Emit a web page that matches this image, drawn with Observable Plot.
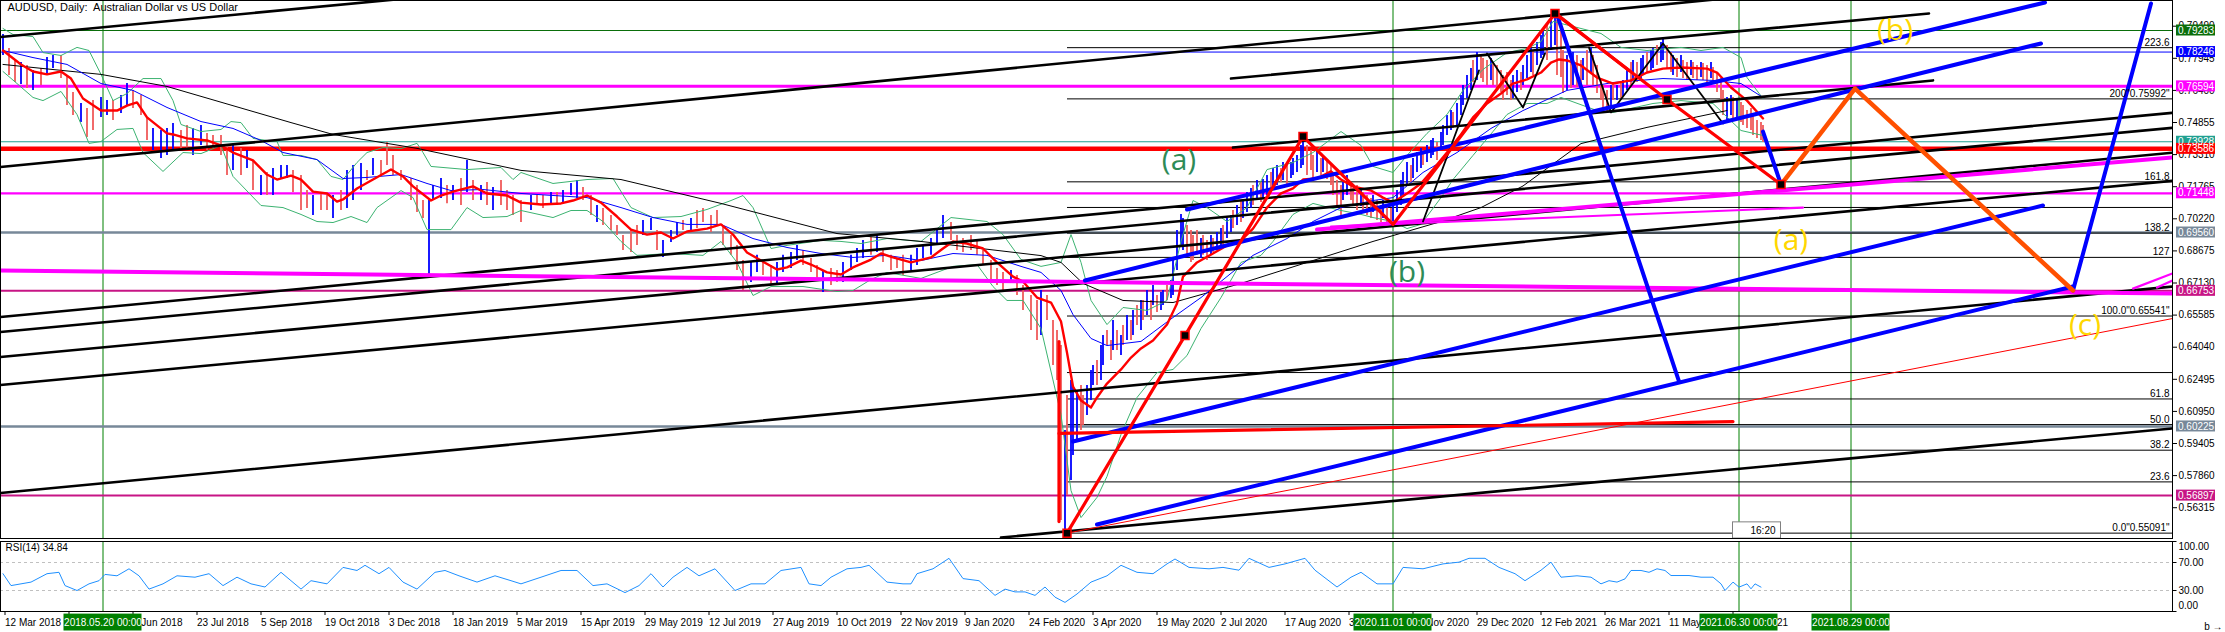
<!DOCTYPE html>
<html><head><meta charset="utf-8">
<script src="https://cdn.jsdelivr.net/npm/d3@7"></script>
<script src="https://cdn.jsdelivr.net/npm/@observablehq/plot@0.6"></script>
<style>
html,body{margin:0;padding:0;background:#fff;}
#wrap{position:relative;width:2225px;height:632px;overflow:hidden;background:#fff;}
#wrap svg{position:absolute;left:0;display:block;}
</style></head><body><div id="wrap"></div>
<script>
// ---------------- DATA ----------------
const chartTitle = "AUDUSD, Daily:  Australian Dollar vs US Dollar";
const rsiTitle = "RSI(14) 34.84";
const priceTicks = [0.79490,0.77945,0.76400,0.74855,0.73310,0.71765,0.70220,0.68675,0.67130,0.65585,0.64040,0.62495,0.60950,0.59405,0.57860,0.56315];
const rsiTicks = [100,70,30,0];
const dateTickBars = [0,32,64,96,128,160,192,224,256,288,320,352,384,416,448,480,512,544,576,608,640,672,704,736,768,800,832,864];
const dateTickLabels = ["12 Mar 2018","24 Apr 2018","7 Jun 2018","23 Jul 2018","5 Sep 2018","19 Oct 2018","3 Dec 2018","18 Jan 2019","5 Mar 2019","15 Apr 2019","29 May 2019","12 Jul 2019","27 Aug 2019","10 Oct 2019","22 Nov 2019","9 Jan 2020","24 Feb 2020","3 Apr 2020","19 May 2020","2 Jul 2020","17 Aug 2020","30 Sep 2020","11 Nov 2020","29 Dec 2020","12 Feb 2021","26 Mar 2021","11 May 2021","23 Jun 2021"];
const greenLineBars = [50,695,868,924];
const greenLineLabels = ["2018.05.20 00:00","2020.11.01 00:00","2021.06.30 00:00","2021.08.29 00:00"];

// [bar, high, low, up]
const bars = [
[0,.7909,.7808,1],[3,.7842,.7712,0],[6,.7784,.7678,0],[9,.7774,.7669,1],[12,.7760,.7649,0],[15,.7736,.7640,1],[19,.7745,.7664,0],[22,.7798,.7712,1],[25,.7808,.7745,1],[29,.7808,.7697,0],
[32,.7712,.7567,0],[35,.7630,.7519,0],[39,.7577,.7485,1],[42,.7553,.7413,0],[45,.7591,.7447,0],[49,.7606,.7510,1],[52,.7591,.7519,1],[55,.7591,.7495,0],[59,.7615,.7529,1],[62,.7673,.7567,1],
[65,.7640,.7553,0],[69,.7615,.7519,0],[72,.7505,.7399,0],[75,.7457,.7351,1],[79,.7447,.7312,1],[82,.7457,.7327,1],[85,.7481,.7351,1],[89,.7447,.7351,0],[92,.7471,.7360,0],[95,.7457,.7327,1],
[99,.7471,.7375,1],[102,.7433,.7351,0],[105,.7423,.7360,0],[109,.7423,.7327,0],[112,.7365,.7230,0],[115,.7375,.7254,1],[119,.7360,.7230,0],[122,.7351,.7264,1],[125,.7303,.7158,0],[129,.7230,.7134,1],
[132,.7245,.7134,0],[135,.7264,.7134,1],[139,.7279,.7216,1],[142,.7279,.7216,1],[145,.7254,.7149,0],[149,.7230,.7062,0],[152,.7158,.7072,0],[155,.7134,.7038,1],[159,.7149,.7062,0],[162,.7134,.7062,0],
[165,.7134,.7023,1],[169,.7158,.7062,0],[172,.7254,.7072,1],[175,.7279,.7110,1],[179,.7288,.7158,1],[182,.7254,.7206,0],[185,.7312,.7230,1],[189,.7303,.7230,0],[192,.7389,.7279,0],[195,.7327,.7230,0],
[199,.7254,.7206,0],[204,.7216,.7110,0],[207,.7182,.7052,0],[210,.7110,.7023,0],[213,.7110,.6744,1],[215,.7182,.7110,1],[219,.7216,.7120,1],[222,.7182,.7095,0],[225,.7182,.7110,1],[229,.7216,.7086,0],
[232,.7303,.7149,1],[235,.7206,.7110,0],[239,.7182,.7110,1],[242,.7197,.7086,0],[245,.7173,.7062,1],[249,.7206,.7086,0],[252,.7158,.7062,0],[255,.7134,.7038,0],[259,.7110,.7004,0],[264,.7134,.7062,1],
[267,.7134,.7086,0],[270,.7134,.7072,0],[274,.7149,.7086,1],[277,.7149,.7086,0],[280,.7158,.7100,1],[284,.7192,.7134,1],[287,.7206,.7120,1],[290,.7173,.7110,0],[294,.7134,.7038,0],[297,.7086,.7004,1],
[300,.7072,.6990,0],[304,.7038,.6966,0],[307,.6990,.6942,0],[310,.6942,.6869,0],[314,.6966,.6860,0],[317,.6990,.6894,0],[320,.7014,.6942,1],[324,.7023,.6966,1],[327,.6966,.6869,0],[330,.6918,.6836,1],
[334,.6966,.6908,1],[337,.7004,.6942,1],[340,.7014,.6966,0],[344,.7023,.6956,1],[347,.7062,.6975,0],[350,.7072,.7004,0],[354,.7038,.6956,0],[357,.7062,.6990,0],[360,.6990,.6894,0],[364,.6942,.6846,0],
[367,.6894,.6773,0],[370,.6821,.6677,0],[374,.6812,.6715,1],[377,.6846,.6764,1],[380,.6821,.6749,0],[384,.6797,.6701,0],[387,.6812,.6701,1],[390,.6846,.6764,1],[394,.6860,.6783,1],[397,.6894,.6821,1],
[400,.6869,.6797,0],[404,.6831,.6764,0],[407,.6797,.6735,0],[410,.6773,.6667,1],[414,.6783,.6701,0],[417,.6773,.6715,0],[420,.6812,.6715,1],[424,.6846,.6773,1],[427,.6879,.6812,1],[430,.6918,.6831,1],
[434,.6932,.6846,0],[437,.6942,.6860,1],[440,.6879,.6812,0],[444,.6846,.6773,0],[447,.6831,.6783,0],[450,.6846,.6749,0],[454,.6846,.6773,1],[457,.6879,.6797,1],[460,.6894,.6831,1],[464,.6927,.6846,1],
[467,.6975,.6894,1],[470,.7038,.6927,1],[474,.7004,.6918,0],[477,.6942,.6869,0],[480,.6927,.6860,0],[484,.6942,.6869,0],[487,.6918,.6846,0],[490,.6869,.6797,0],[494,.6821,.6715,0],[497,.6783,.6701,0],
[500,.6764,.6677,0],[504,.6773,.6715,1],[507,.6749,.6653,0],[510,.6701,.6581,0],[514,.6653,.6484,0],[517,.6629,.6436,0],[519,.6677,.6460,1],[522,.6653,.6532,0],[525,.6532,.6316,0],[527,.6484,.6244,0],
[529,.6412,.5570,0],[531,.6003,.5509,1],[532,.6172,.5690,0],[534,.6244,.5762,1],[535,.6220,.5883,1],[537,.6196,.5955,1],[539,.6220,.6003,0],[540,.6172,.6027,0],[542,.6220,.6075,1],[544,.6292,.6147,1],
[545,.6316,.6220,1],[547,.6340,.6220,0],[549,.6412,.6244,1],[550,.6460,.6316,1],[552,.6484,.6412,0],[554,.6436,.6340,0],[555,.6532,.6388,1],[557,.6484,.6388,0],[559,.6460,.6364,1],[560,.6508,.6412,0],
[562,.6556,.6436,1],[564,.6532,.6436,0],[565,.6581,.6460,1],[567,.6605,.6508,0],[569,.6629,.6484,1],[570,.6629,.6532,0],[572,.6677,.6556,1],[574,.6629,.6532,0],[575,.6701,.6605,1],[577,.6653,.6571,0],
[579,.6667,.6581,1],[580,.6677,.6605,1],[582,.6701,.6629,0],[584,.6725,.6639,1],[585,.6821,.6653,1],[587,.6966,.6773,1],[589,.7043,.6894,1],[590,.7023,.6869,1],[592,.6990,.6846,0],[594,.6966,.6812,0],
[595,.6942,.6821,0],[597,.6966,.6846,0],[599,.6927,.6831,1],[600,.6942,.6846,0],[602,.6918,.6821,0],[604,.6942,.6846,1],[605,.6927,.6860,0],[607,.6956,.6869,1],[609,.6975,.6879,1],[610,.6990,.6894,0],
[612,.7023,.6927,1],[614,.7038,.6956,1],[615,.7062,.6975,0],[617,.7086,.6990,1],[619,.7110,.7004,0],[620,.7110,.7023,1],[622,.7149,.7052,1],[624,.7168,.7072,1],[625,.7182,.7086,0],[627,.7206,.7110,1],
[629,.7197,.7100,0],[630,.7211,.7120,1],[632,.7230,.7134,1],[634,.7245,.7158,0],[635,.7264,.7177,1],[637,.7279,.7182,1],[639,.7264,.7197,0],[640,.7293,.7206,1],[642,.7279,.7182,0],[644,.7293,.7216,1],
[645,.7312,.7230,1],[647,.7327,.7245,1],[649,.7375,.7264,1],[650,.7418,.7279,1],[652,.7375,.7230,0],[654,.7351,.7254,0],[655,.7327,.7216,0],[657,.7351,.7245,1],[659,.7312,.7230,0],[660,.7327,.7245,1],
[662,.7303,.7211,0],[664,.7279,.7182,0],[665,.7230,.7134,0],[667,.7206,.7086,0],[669,.7182,.7023,0],[670,.7197,.7110,1],[672,.7230,.7134,1],[674,.7197,.7110,0],[675,.7168,.7086,0],[677,.7182,.7062,0],
[679,.7168,.7081,1],[680,.7149,.7052,0],[682,.7134,.7038,0],[684,.7120,.7023,0],[685,.7134,.7052,1],[687,.7110,.7014,0],[689,.7086,.7004,0],[690,.7110,.7023,1],[692,.7086,.6995,0],[694,.7072,.6995,0],
[695,.7110,.7004,1],[697,.7158,.7052,1],[699,.7206,.7086,1],[700,.7245,.7134,1],[702,.7293,.7182,1],[704,.7279,.7197,0],[705,.7312,.7216,1],[707,.7341,.7245,1],[709,.7360,.7264,1],[710,.7351,.7279,0],
[712,.7375,.7293,1],[714,.7399,.7312,1],[715,.7409,.7327,1],[717,.7389,.7303,0],[719,.7437,.7351,1],[720,.7471,.7375,1],[722,.7519,.7423,1],[724,.7543,.7447,1],[725,.7534,.7457,0],[727,.7577,.7471,1],
[729,.7615,.7519,1],[730,.7664,.7567,1],[732,.7712,.7601,1],[734,.7745,.7640,1],[735,.7784,.7678,0],[737,.7822,.7688,1],[739,.7808,.7697,0],[740,.7793,.7678,0],[742,.7784,.7664,0],[744,.7793,.7688,1],
[745,.7774,.7664,0],[747,.7760,.7649,0],[749,.7736,.7630,0],[750,.7712,.7591,0],[752,.7726,.7615,0],[754,.7688,.7591,0],[755,.7712,.7601,1],[757,.7736,.7630,1],[759,.7726,.7640,0],[760,.7760,.7664,1],
[762,.7808,.7697,1],[764,.7842,.7726,1],[765,.7832,.7712,0],[767,.7871,.7760,1],[769,.7904,.7793,1],[770,.7938,.7808,1],[772,.7952,.7784,0],[774,.7976,.7832,1],[776,.8007,.7856,1],[777,.7976,.7712,0],
[779,.7928,.7702,0],[780,.7832,.7625,0],[782,.7808,.7640,1],[784,.7784,.7649,0],[785,.7822,.7664,1],[787,.7808,.7654,0],[789,.7784,.7664,0],[790,.7793,.7688,1],[792,.7832,.7664,0],[794,.7847,.7726,1],
[795,.7808,.7664,0],[797,.7760,.7625,0],[799,.7688,.7591,0],[800,.7664,.7543,0],[802,.7640,.7529,0],[804,.7664,.7553,1],[805,.7673,.7591,0],[807,.7664,.7591,1],[809,.7673,.7601,0],[810,.7688,.7611,1],
[812,.7736,.7640,1],[814,.7774,.7664,0],[815,.7784,.7688,1],[817,.7774,.7678,0],[819,.7793,.7697,1],[820,.7808,.7712,1],[822,.7822,.7726,0],[824,.7832,.7736,1],[825,.7842,.7745,1],[827,.7856,.7760,0],
[829,.7871,.7774,1],[830,.7890,.7784,1],[832,.7856,.7745,0],[834,.7822,.7726,0],[835,.7808,.7712,1],[837,.7793,.7702,0],[839,.7808,.7726,1],[840,.7784,.7697,0],[842,.7774,.7688,0],[844,.7784,.7712,1],
[845,.7774,.7697,0],[847,.7760,.7688,0],[849,.7774,.7702,1],[850,.7770,.7688,0],[852,.7760,.7678,0],[854,.7774,.7697,1],[855,.7750,.7673,0],[857,.7726,.7630,0],[859,.7697,.7591,0],[860,.7640,.7519,0],
[862,.7606,.7481,1],[864,.7615,.7519,1],[865,.7606,.7505,0],[867,.7591,.7495,1],[869,.7582,.7485,0],[870,.7567,.7471,0],[872,.7543,.7457,0],[874,.7553,.7447,0],[875,.7519,.7423,0],[877,.7495,.7409,0],
[879,.7485,.7399,0],[880,.7471,.7389,0]
];

// indicator lines [bar, price]
const redMA = [[0,.7832],[9,.7765],[15,.7731],[22,.7717],[29,.7731],[34,.7697],[40,.7601],[49,.7543],[57,.7543],[62,.7567],[67,.7582],[72,.7510],[82,.7433],[85,.7428],[92,.7409],[102,.7399],[109,.7375],[115,.7341],[125,.7303],[132,.7235],[137,.7211],[144,.7230],[149,.7211],[155,.7153],[162,.7144],[167,.7105],[170,.7115],[177,.7168],[185,.7211],[194,.7259],[200,.7226],[205,.7178],[214,.7110],[219,.7134],[225,.7153],[235,.7178],[242,.7144],[252,.7134],[259,.7100],[269,.7091],[279,.7096],[285,.7110],[292,.7134],[299,.7100],[307,.7033],[314,.6970],[322,.6946],[329,.6956],[335,.6927],[342,.6961],[352,.6975],[359,.6995],[365,.6946],[372,.6860],[379,.6821],[387,.6778],[392,.6788],[399,.6821],[404,.6802],[412,.6764],[419,.6754],[425,.6788],[434,.6826],[439,.6855],[445,.6836],[454,.6812],[464,.6836],[470,.6879],[475,.6913],[482,.6903],[490,.6879],[497,.6812],[505,.6744],[510,.6720],[517,.6643],[524,.6619],[529,.6528],[532,.6378],[535,.6215],[539,.6147],[544,.6114],[547,.6162],[552,.6229],[559,.6297],[564,.6354],[569,.6398],[575,.6436],[582,.6513],[587,.6614],[590,.6744],[597,.6812],[605,.6855],[612,.6894],[619,.6918],[625,.6975],[632,.7076],[639,.7144],[645,.7168],[650,.7211],[657,.7216],[664,.7250],[669,.7211],[675,.7178],[684,.7158],[690,.7124],[695,.7100],[702,.7144],[709,.7192],[715,.7259],[722,.7341],[729,.7428],[735,.7510],[742,.7577],[749,.7625],[755,.7673],[762,.7693],[769,.7726],[774,.7774],[778,.7789],[782,.7784],[789,.7760],[797,.7702],[805,.7673],[814,.7688],[822,.7726],[830,.7745],[839,.7750],[852,.7745],[857,.7726],[864,.7654],[872,.7591],[880,.7505]];
const blueMA = [[0,.7832],[15,.7798],[32,.7765],[49,.7673],[65,.7640],[82,.7558],[99,.7490],[115,.7457],[129,.7399],[140,.7341],[157,.7307],[170,.7216],[182,.7221],[199,.7235],[212,.7192],[224,.7158],[240,.7163],[259,.7144],[292,.7124],[309,.7076],[325,.7028],[342,.6995],[359,.6995],[375,.6927],[392,.6884],[409,.6855],[425,.6836],[442,.6846],[459,.6821],[475,.6855],[492,.6846],[509,.6793],[519,.6764],[529,.6677],[535,.6561],[544,.6446],[552,.6412],[569,.6432],[585,.6547],[599,.6643],[612,.6744],[625,.6846],[642,.6927],[655,.7009],[669,.7076],[685,.7110],[695,.7124],[710,.7245],[727,.7341],[744,.7457],[760,.7543],[782,.7640],[805,.7678],[830,.7697],[855,.7688],[869,.7673],[880,.7606]];
const longMA = [[0,.7765],[49,.7717],[82,.7659],[144,.7485],[165,.7428],[207,.7361],[259,.7255],[309,.7211],[359,.7096],[417,.6951],[459,.6913],[519,.6845],[529,.6812],[540,.6711],[560,.6629],[585,.6619],[619,.6711],[652,.6812],[685,.6913],[719,.7009],[739,.7076],[760,.7180],[789,.7384],[822,.7462],[862,.7543]];
const bbUpper = [[0,.7938],[5,.7909],[15,.7899],[20,.7822],[29,.7808],[37,.7847],[43,.7832],[49,.7717],[55,.7591],[62,.7625],[70,.7697],[79,.7697],[85,.7591],[89,.7476],[99,.7442],[109,.7452],[114,.7490],[119,.7485],[125,.7409],[132,.7399],[137,.7394],[140,.7327],[149,.7327],[157,.7307],[164,.7226],[170,.7211],[177,.7293],[182,.7341],[190,.7365],[199,.7360],[207,.7385],[210,.7341],[214,.7274],[232,.7259],[249,.7269],[255,.7211],[259,.7245],[275,.7192],[292,.7211],[305,.7216],[314,.7076],[325,.7028],[339,.7033],[352,.7067],[364,.7110],[370,.7134],[375,.7076],[384,.6879],[392,.6894],[409,.6918],[419,.6913],[429,.6903],[442,.6927],[459,.6913],[474,.7028],[492,.7009],[500,.6946],[509,.6826],[519,.6793],[529,.6812],[534,.6946],[539,.6812],[544,.6629],[552,.6513],[560,.6595],[572,.6581],[582,.6629],[589,.6913],[595,.7110],[602,.7076],[612,.7009],[622,.7076],[632,.7259],[645,.7293],[655,.7341],[669,.7442],[679,.7375],[685,.7274],[695,.7245],[702,.7327],[712,.7433],[722,.7524],[730,.7640],[740,.7741],[752,.7822],[762,.7842],[769,.7875],[775,.7972],[789,.7938],[799,.7914],[809,.7847],[822,.7832],[839,.7847],[849,.7832],[860,.7847],[869,.7798],[872,.7702],[880,.7601]];
const bbLower = [[0,.7731],[7,.7673],[15,.7606],[20,.7591],[29,.7635],[37,.7524],[43,.7385],[49,.7394],[57,.7452],[65,.7457],[70,.7341],[80,.7250],[90,.7341],[99,.7336],[109,.7375],[115,.7226],[129,.7086],[140,.7076],[149,.7043],[157,.7009],[165,.7004],[174,.7033],[182,.7004],[187,.7076],[199,.7158],[205,.7124],[212,.6970],[224,.6970],[232,.7076],[240,.7028],[252,.7033],[259,.7062],[275,.7028],[284,.7062],[292,.7062],[300,.7009],[309,.6913],[317,.6846],[334,.6855],[350,.6846],[359,.6913],[367,.6812],[375,.6653],[384,.6696],[400,.6696],[417,.6672],[425,.6677],[434,.6730],[442,.6764],[459,.6735],[475,.6793],[487,.6802],[495,.6696],[502,.6629],[510,.6629],[519,.6494],[529,.6080],[534,.5714],[539,.5584],[547,.5681],[552,.5782],[559,.5984],[567,.6162],[577,.6282],[585,.6297],[592,.6364],[599,.6494],[609,.6643],[619,.6812],[629,.6846],[635,.6913],[645,.7043],[655,.7096],[669,.7062],[679,.7043],[685,.7028],[695,.7009],[702,.6975],[709,.6995],[719,.7124],[725,.7211],[735,.7327],[745,.7442],[752,.7524],[762,.7577],[772,.7577],[779,.7606],[797,.7543],[805,.7534],[825,.7577],[839,.7591],[855,.7577],[869,.7447],[880,.7423]];
const rsi = [[0,54],[4,37],[9,39.5],[14,42],[22,54],[28,56],[31,37],[37,30],[43,39.5],[48,44],[51,53],[57,51],[63,61],[68,51],[73,32],[80,39.5],[87,51],[96,49],[103,54],[110,37],[117,49],[124,39.5],[131,35],[139,56],[149,32],[154,44],[162,39.5],[170,63],[177,58.6],[181,66],[188,54],[193,63],[200,42],[207,32],[216,56],[221,58.6],[228,51],[237,42],[246,51],[254,44],[259,39.5],[269,49],[279,58.6],[287,58.6],[295,37],[302,39.5],[311,27],[318,37],[324,54],[330,35],[335,49],[342,63],[348,51],[356,61],[366,30],[374,39.5],[381,39.5],[389,58.6],[399,63],[403,39.5],[409,37],[414,49],[422,61],[429,63],[433,66],[442,42],[450,39.5],[454,39.5],[457,54],[465,61],[473,76],[480,47],[488,44],[496,23],[501,32],[506,28],[511,28],[516,23],[521,35],[526,20.5],[531,13],[537,25],[544,42],[552,51],[559,66],[567,56],[575,54],[582,68],[586,75],[593,63],[603,61],[610,63],[618,59],[623,76],[633,63],[641,68],[651,76],[656,59],[667,35],[674,49],[679,56],[687,39.5],[695,39.5],[700,63],[710,61],[720,68],[728,70.5],[733,76],[741,76],[748,63],[756,54],[761,44],[769,59],[774,70.5],[779,49],[787,51],[794,49],[799,39.5],[803,44],[807,42],[811,46.6],[814,58.6],[819,58.6],[823,56],[827,61],[831,58.6],[834,51.4],[839,51.4],[843,51.4],[849,49],[855,49],[859,39.5],[861,30],[865,42],[868,34.8],[872,39.5],[874,32.4],[876,39.5],[879,34.84]];

// horizontal price levels (full width) and their right-axis labels
const levelPrices = [0.79283,0.78246,0.76594,0.73928,0.73586,0.71448,0.69560,0.66753,0.60225,0.56897];
const levelLabels = ["0.79283","0.78246","0.76594","0.73928","0.73586","0.71448","0.69560","0.66753","0.60225","0.56897"];
// fibonacci levels (from the March 2020 low to the right edge)
const fibStartBar = 532;
const fibPrices = [0.55091,0.57557,0.59083,0.60316,0.61549,0.62820,0.65541,0.68363,0.69533,0.70766,0.71999,0.75992,0.78457];
const fibLabels = ['0.0"0.55091"','23.6','38.2','50.0','61.8','','100.0"0.65541"','127','138.2','','161.8','200"0.75992"','223.6'];

// drawn objects: each is a list of [bar, price] vertices
const blackChannels = [
 [[-1.25,.7897],[1084.75,.8890]],
 [[-1.25,.7271],[1084.75,.8293]],
 [[-1.25,.6549],[1084.75,.7532]],
 [[-1.25,.6477],[1084.75,.7460]],
 [[-1.25,.6357],[1084.75,.7340]],
 [[-1.25,.6222],[1084.75,.7205]],
 [[-1.25,.5702],[1084.75,.6696]],
 [[499,.5488],[1084.75,.6013]],
 [[614,.7697],[963,.8010]],
 [[615,.7365],[965,.7688]]
];
const magentaThick = [[[-1.25,.6773],[1084.75,.6663]], [[657,.6970],[1084.75,.7317]]];
const magentaThin = [[[664,.6985],[900,.7076]], [[1065,.6686],[1084.75,.6759]], [[1077,.6691],[1084.75,.6725]]];
const blueThick = [
 [[592,.7067],[1021,.8063]],
 [[541,.6725],[1019,.7866]],
 [[535,.5950],[1020,.7086]],
 [[547,.5551],[1035,.6696]],
 [[777,.8005],[838,.6239]],
 [[880,.7442],[889,.7187]],
 [[1035,.6677],[1074,.8058]]
];
const redWaves = [
 [[532,.5509],[591,.6460],[650,.7418],[695,.6995],[776,.8010],[832,.7596],[889,.7187]],
 [[777,.8005],[813,.7736]],
 [[528,.5989],[865,.6046]],
 [[528,.6431],[528,.5565]]
];
const redThin = [[532,.5509],[1084.75,.6542]];
const orangeWave = [[889,.7187],[926,.7649],[1035,.6677]];
const zigzag = [
 [[710,.7009],[738,.7736]],
 [[742,.7818],[760,.7558],[771,.7818]],
 [[793,.7847],[804,.7534],[830,.7866],[860,.7481]]
];
const wavePoints = [[532,.5509],[591,.6460],[650,.7418],[776,.8010],[832,.7596],[889,.7187]];
const greenWaveLabels = [{t:"(a)",b:588,p:.7303},{t:"(b)",b:702,p:.6764}];
const goldWaveLabels = [{t:"(b)",b:946,p:.7928},{t:"(a)",b:894,p:.6918},{t:"(c)",b:1041,p:.6508}];
const clockBox = {t:"16:20", b1:865, b2:889, p1:.5483, p2:.5561};

// ---------------- RENDER ----------------
const W = 2225;
const uiFont = "'Liberation Sans Narrow','Liberation Sans',Arial,sans-serif";
const xDomain = [-1.25, 1084.75];
const yDomain = [0.54833, 0.80727];
const pxPrice = (yDomain[1]-yDomain[0])/538;
const flat = paths => paths.flatMap((pts,i)=>pts.map(([b,p])=>({b,p,id:i})));
const pts = a => a.map(([b,p])=>({b,p}));

const hColors = ["#0a6e0a","#0000ff","#ff00ff","#20a090","#ff0000","#ff00ff","#778899","#c71585","#778899","#c71585"];
const hWidths = [1,1,3,1,4.5,2.2,2.6,2,2.6,2];
const levels = levelPrices.map((p,i)=>({p, label:levelLabels[i], c:hColors[i], w:hWidths[i]}));
const fibs = fibPrices.map((p,i)=>({p, label:fibLabels[i]}));

const main = Plot.plot({
  width: W, height: 541,
  marginLeft: 0, marginRight: 53, marginTop: 0, marginBottom: 3,
  x: {domain: xDomain, axis: null},
  y: {domain: yDomain, axis: null},
  style: {fontFamily: uiFont, fontSize: "10px", background: "white", overflow: "visible"},
  marks: [
    Plot.ruleX(greenLineBars, {x: d=>d, stroke: "#008000", strokeWidth: 1}),
    ...levels.map(l => Plot.ruleY([l.p], {stroke: l.c, strokeWidth: l.w})),
    Plot.link(fibs, {x1: ()=>fibStartBar, x2: ()=>xDomain[1], y1: "p", y2: "p", stroke: "black", strokeWidth: 1}),
    Plot.ruleX(bars.filter(d=>!d[3]), {x: d=>d[0], y1: d=>d[2], y2: d=>d[1], stroke: "#f05a5a", strokeWidth: 1.8}),
    Plot.ruleX(bars.filter(d=>d[3]), {x: d=>d[0], y1: d=>d[2], y2: d=>d[1], stroke: "#0000ff", strokeWidth: 1.8}),
    Plot.line(pts(bbUpper), {x:"b", y:"p", stroke:"#3cb371", strokeWidth:1}),
    Plot.line(pts(bbLower), {x:"b", y:"p", stroke:"#3cb371", strokeWidth:1}),
    Plot.line(pts(longMA), {x:"b", y:"p", stroke:"#000", strokeWidth:1}),
    Plot.line(pts(blueMA), {x:"b", y:"p", stroke:"#0000ff", strokeWidth:1}),
    Plot.line(pts(redMA), {x:"b", y:"p", stroke:"#ff0000", strokeWidth:2.4}),
    Plot.line(flat(blackChannels), {x:"b", y:"p", z:"id", stroke:"#000", strokeWidth:2.6, clip:true}),
    Plot.line(flat(magentaThick), {x:"b", y:"p", z:"id", stroke:"#ff00ff", strokeWidth:4, clip:true}),
    Plot.line(flat(magentaThin), {x:"b", y:"p", z:"id", stroke:"#ff00ff", strokeWidth:2.2, clip:true}),
    Plot.line(pts(redThin), {x:"b", y:"p", stroke:"#ff0000", strokeWidth:1, clip:true}),
    Plot.line(flat(zigzag), {x:"b", y:"p", z:"id", stroke:"#000", strokeWidth:1.8, clip:true}),
    Plot.line(flat(blueThick), {x:"b", y:"p", z:"id", stroke:"#0000ff", strokeWidth:4, clip:true}),
    Plot.line(flat(redWaves), {x:"b", y:"p", z:"id", stroke:"#ff0000", strokeWidth:3.2, clip:true}),
    Plot.line(pts(orangeWave), {x:"b", y:"p", stroke:"#ff5000", strokeWidth:4.5, clip:true}),
    Plot.dot(pts(wavePoints), {x:"b", y:"p", symbol:"square", r:4.5, fill:"#000", stroke:"#ff0000", strokeWidth:1.5}),
    Plot.text(greenWaveLabels, {x:"b", y:"p", text:"t", fill:"#2e8b57", fontSize:30, fontFamily:"'Open Sans',sans-serif"}),
    Plot.text(goldWaveLabels, {x:"b", y:"p", text:"t", fill:"#ffd700", fontSize:30, fontFamily:"'Open Sans',sans-serif"}),
    Plot.rect([clockBox], {x1:"b1", x2:"b2", y1:"p1", y2:"p2", fill:"#fff", stroke:"#808080"}),
    Plot.text([clockBox], {x: d=>(d.b1+d.b2)/2+3, y: d=>(d.p1+d.p2)/2, text:"t", fontSize:10, fill:"#000"}),
    Plot.text(fibs.filter(d=>d.label), {x: ()=>xDomain[1], y:"p", text:"label", textAnchor:"end", lineAnchor:"bottom", dx:-3, dy:-2, fill:"#000", fontSize:10}),
    Plot.frame({stroke:"#000"}),
    Plot.axisY(priceTicks, {anchor:"right", tickSize:4, tickPadding:2, tickFormat: d=>d.toFixed(5), fontSize:10, stroke:"#000"}),
    Plot.rect(levels, {x1: ()=>1086.75, x2: ()=>1106.25, y1: d=>d.p-5.5*pxPrice, y2: d=>d.p+5.5*pxPrice, fill: d=>d.c}),
    Plot.text(levels, {x: ()=>1087.5, y:"p", text:"label", textAnchor:"start", fill:"#fff", fontSize:10}),
    Plot.text([chartTitle], {frameAnchor:"top-left", dx:7, dy:3, lineAnchor:"top", fontSize:11, fill:"#000"})
  ]
});
main.style.top = "0px";

const rsiPx = 100/70;
const gl = greenLineBars.map((b,i)=>({b, t:greenLineLabels[i]}));
const rsiLabelY = d => d === 100 ? d - 5*rsiPx : d === 0 ? d + 6*rsiPx : d;
const rsiPlot = Plot.plot({
  width: W, height: 91,
  marginLeft: 0, marginRight: 53, marginTop: 0, marginBottom: 21,
  x: {domain: xDomain, axis: null},
  y: {domain: [0,100], axis: null},
  style: {fontFamily: uiFont, fontSize: "10px", background: "white", overflow: "visible"},
  marks: [
    Plot.ruleY([70,30], {stroke:"#c0c0c0", strokeDasharray:"3,3"}),
    Plot.ruleX(greenLineBars, {x:d=>d, stroke:"#008000"}),
    Plot.line(rsi.map(([b,v])=>({b,v})), {x:"b", y:"v", stroke:"#1e90ff", strokeWidth:1}),
    Plot.frame({stroke:"#000"}),
    Plot.link(rsiTicks, {x1: ()=>xDomain[1], x2: ()=>xDomain[1]+2, y1: d=>d, y2: d=>d, stroke:"#000"}),
    Plot.text(rsiTicks, {x: ()=>xDomain[1]+3, y: rsiLabelY, text: d=>d.toFixed(2), textAnchor:"start", fill:"#000", fontSize:10}),
    Plot.axisX(dateTickBars, {anchor:"bottom", tickSize:4, tickPadding:3, tickFormat:(d)=>dateTickLabels[dateTickBars.indexOf(d)], textAnchor:"start", dx:2, fontSize:10}),
    Plot.rect(gl, {x1:d=>d.b-19.5, x2:d=>d.b+19.5, y1:()=>-2.6*rsiPx, y2:()=>-19.5*rsiPx, fill:"#008000"}),
    Plot.text(gl, {x:"b", y:()=>-11*rsiPx, text:"t", fill:"#fff", fontSize:10}),
    Plot.text([rsiTitle], {frameAnchor:"top-left", dx:5, dy:2, lineAnchor:"top", fontSize:10, fill:"#000"})
  ]
});
rsiPlot.style.top = "541px";

const wrap = document.getElementById("wrap");
wrap.appendChild(main);
wrap.appendChild(rsiPlot);
</script></body></html>
